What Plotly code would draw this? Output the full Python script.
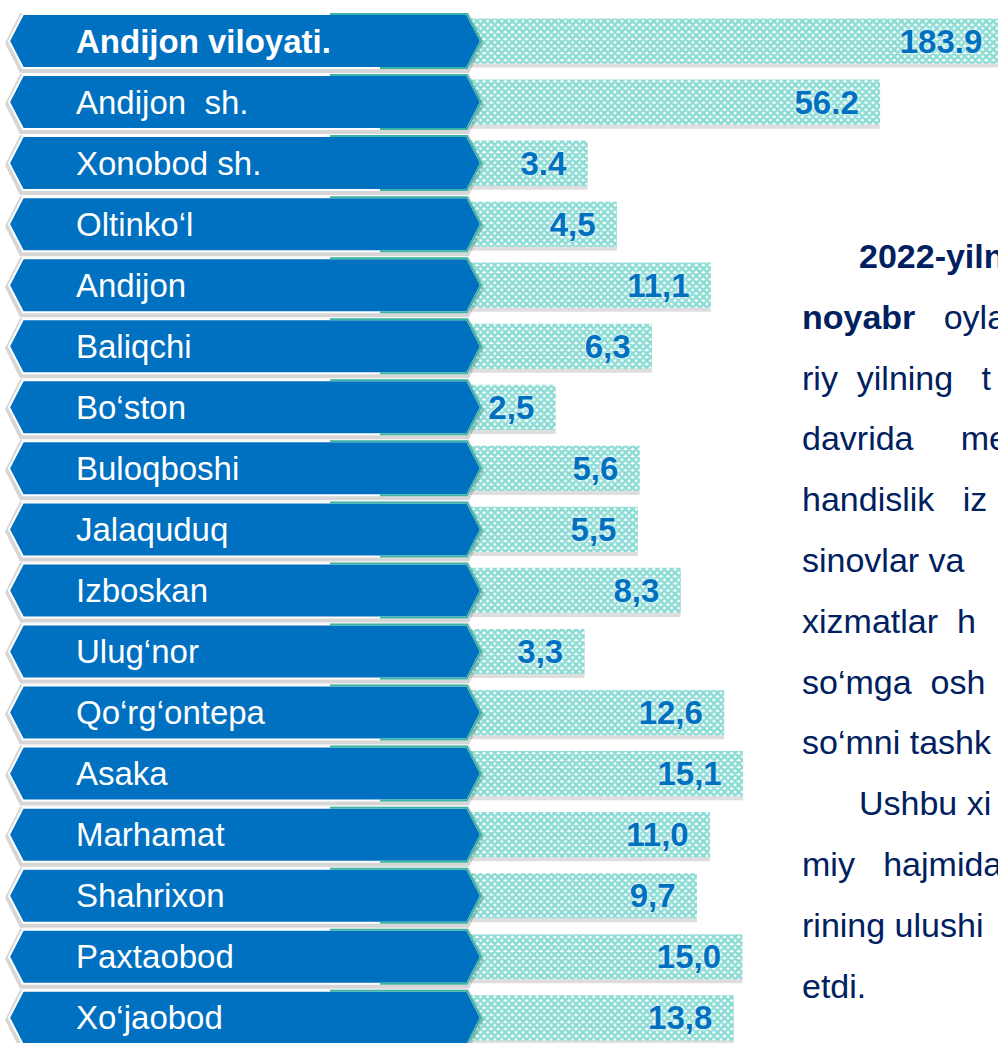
import plotly.graph_objects as go

# ---------------- data ----------------
categories = ["Andijon viloyati.", "Andijon\u00a0 sh.", "Xonobod sh.", "Oltinko‘l", "Andijon",
              "Baliqchi", "Bo‘ston", "Buloqboshi", "Jalaquduq", "Izboskan", "Ulug‘nor",
              "Qo‘rg‘ontepa", "Asaka", "Marhamat", "Shahrixon", "Paxtaobod", "Xo‘jaobod"]
values = [183.9, 56.2, 3.4, 4.5, 11.1, 6.3, 2.5, 5.6, 5.5, 8.3, 3.3, 12.6, 15.1, 11.0, 9.7, 15.0, 13.8]
value_labels = ["183.9", "56.2", "3.4", "4,5", "11,1", "6,3", "2,5", "5,6", "5,5", "8,3", "3,3",
                "12,6", "15,1", "11,0", "9,7", "15,0", "13,8"]
NB = "\u00a0"
paragraph_lines = [
    "<b>2022-yiln</b>",
    f"<b>noyabr</b>{NB*3}oyla",
    f"riy{NB*2}yilning{NB*3}t",
    f"davrida{NB*5}me",
    f"handislik{NB*3}iz",
    "sinovlar va",
    f"xizmatlar{NB*2}h",
    f"so‘mga{NB*2}osh",
    "so‘mni tashk",
    "Ushbu xi",
    f"miy{NB*3}hajmida",
    "rining ulushi",
    "etdi.",
]
paragraph_indent = [True, False, False, False, False, False, False, False, False, True, False, False, False]

# ---------------- geometry / style ----------------
W, H = 998, 1043
ROW0_PX, ROW_PX = 41.0, 61.05          # centre of first row and row pitch (px)
BLUE = "#0070C0"
NAVY = "#002060"
TEAL = "#14B8A9"
FONT = "Arial, Liberation Sans, sans-serif"

n = len(categories)
positions = list(range(n))

y_top = -ROW0_PX / ROW_PX
y_bot = y_top + H / ROW_PX
BAR_W = 0.74

fig = go.Figure()

# soft shadow under each bar
fig.add_trace(go.Bar(
    y=positions, x=values, orientation="h",
    width=BAR_W, offset=-BAR_W / 2 + 4 / ROW_PX,
    marker=dict(color="rgba(0,0,0,0.13)", line=dict(width=0)),
    hoverinfo="skip", cliponaxis=True,
))

fig.add_trace(go.Bar(
    y=positions, x=values, orientation="h",
    width=BAR_W, offset=-BAR_W / 2,
    marker=dict(color="white", line=dict(width=0),
                pattern=dict(shape="x", fgcolor=TEAL, bgcolor="white", size=5, solidity=0.75)),
    text=value_labels,
    texttemplate="<b>%{text}</b>" + NB * 2,
    textposition="inside", insidetextanchor="end", textangle=0, constraintext="none",
    textfont=dict(family=FONT, size=33, color=BLUE, shadow="0px 0px 4px white"),
    customdata=categories,
    hovertemplate="%{customdata}: %{text}<extra></extra>",
    cliponaxis=True,
))

px = lambda v: v / W
h = 27.0 / ROW_PX
shapes = []
annotations = []
for i, cat in enumerate(categories):
    yc = positions[i]
    d = 2.0 / ROW_PX
    shapes.append(dict(
        type="path", xref="paper", yref="y", layer="above",
        path=(f"M {px(5)},{yc + d} L {px(20)},{yc - h - d + 1/ROW_PX} L {px(469)},{yc - h - d + 1/ROW_PX} "
              f"L {px(484)},{yc + d} L {px(469)},{yc + h + 2.5*d} L {px(20)},{yc + h + 2.5*d} Z"),
        fillcolor="rgba(0,0,0,0.16)", line=dict(width=0)))
    shapes.append(dict(
        type="path", xref="paper", yref="y", layer="above",
        path=(f"M {px(9)},{yc} L {px(23)},{yc - h} L {px(467)},{yc - h} "
              f"L {px(481)},{yc} L {px(467)},{yc + h} L {px(23)},{yc + h} Z"),
        fillcolor=BLUE, line=dict(color="white", width=2)))
    shapes.append(dict(
        type="path", xref="paper", yref="y", layer="above",
        path=(f"M {px(330)},{yc - h} L {px(467)},{yc - h} L {px(481)},{yc} "
              f"L {px(467)},{yc + h} L {px(380)},{yc + h}"),
        fillcolor="rgba(0,0,0,0)", line=dict(color="#3BB3A5", width=2)))
    label = f"<b>{cat}</b>" if i == 0 else cat
    annotations.append(dict(
        x=px(74), xref="paper", y=yc, yref="y", text=label, showarrow=False,
        xanchor="left", yanchor="middle",
        font=dict(family=FONT, size=33, color="white")))

PARA_Y0, PARA_DY = 256.0, 60.8
for k, line in enumerate(paragraph_lines):
    x0 = 857 if paragraph_indent[k] else 800
    annotations.append(dict(
        x=px(x0), xref="paper", y=1 - (PARA_Y0 + PARA_DY * k) / H, yref="paper",
        text=line, showarrow=False, xanchor="left", yanchor="middle",
        font=dict(family=FONT, size=34, color=NAVY)))

fig.update_layout(
    width=W, height=H,
    margin=dict(l=0, r=0, t=0, b=0, pad=0),
    paper_bgcolor="white", plot_bgcolor="rgba(0,0,0,0)",
    showlegend=False,
    barmode="overlay",
    xaxis=dict(type="log", domain=[470 / W, 1.0], range=[0.0414, 2.241],
               visible=False, showgrid=False, zeroline=False),
    yaxis=dict(range=[y_bot, y_top], visible=False, showgrid=False, zeroline=False),
    shapes=shapes,
    annotations=annotations,
)

fig.write_html("out.html", config={"displayModeBar": False},
               post_script="document.body.style.margin='0';")
